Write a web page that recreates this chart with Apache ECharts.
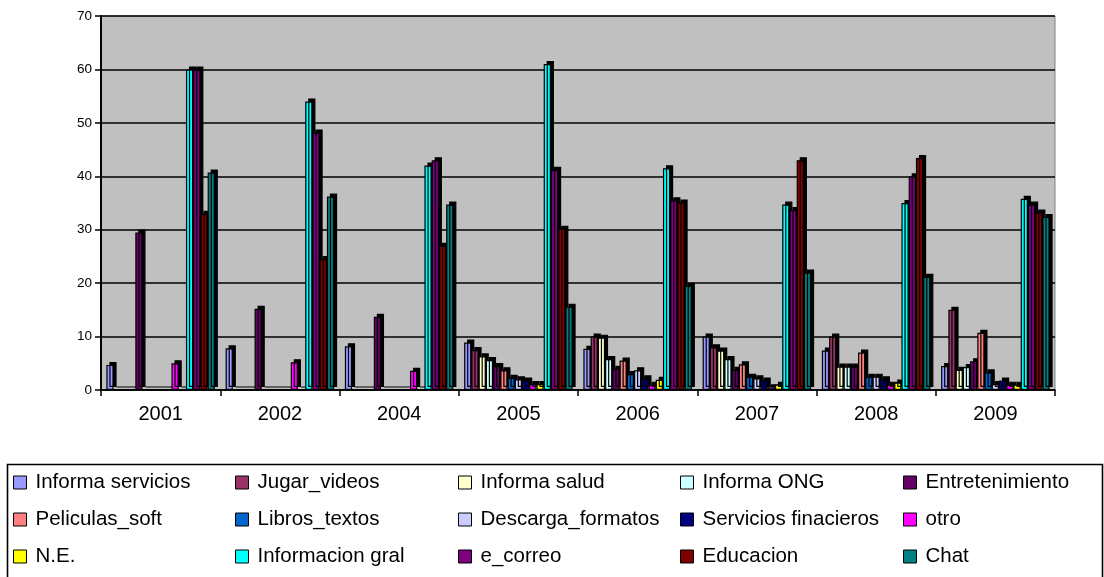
<!DOCTYPE html>
<html>
<head>
<meta charset="utf-8">
<script src="https://cdn.jsdelivr.net/npm/echarts@6/dist/echarts.min.js"></script>
<style>
html,body{margin:0;padding:0;background:#fff;}
#chart{width:1104px;height:577px;}
</style>
</head>
<body>
<div id="chart"></div>
<script>
const categories = ['2001','2002','2004','2005','2006','2007','2008','2009'];
const yTicks = [0,10,20,30,40,50,60,70];

const informaServicios = [4.7, 7.8, 8.2, 8.9, 7.7, 10.0, 7.4, 4.5];
const jugarVideos      = [0, 0, 0, 7.5, 10.0, 8.0, 10.0, 15.0];
const informaSalud     = [0, 0, 0, 6.3, 9.8, 7.4, 4.4, 3.8];
const informaONG       = [0, 0, 0, 5.6, 5.8, 5.8, 4.4, 4.3];
const entretenimiento  = [29.5, 15.2, 13.7, 4.5, 4.0, 3.8, 4.4, 5.4];
const peliculasSoft    = [0, 0, 0, 3.7, 5.5, 4.8, 7.0, 10.7];
const librosTextos     = [0, 0, 0, 2.3, 3.0, 2.5, 2.5, 3.3];
const descargaFormatos = [0, 0, 0, 2.0, 3.7, 2.2, 2.5, 1.1];
const serviciosFin     = [0, 0, 0, 1.8, 2.2, 1.8, 2.0, 1.8];
const otro             = [5.0, 5.2, 3.6, 1.1, 1.0, 0.5, 1.0, 1.0];
const ne               = [0, 0, 0, 1.1, 1.9, 1.0, 1.4, 1.0];
const informacionGral  = [60.0, 54.0, 42.0, 61.0, 41.5, 34.7, 35.0, 35.8];
const eCorreo          = [60.0, 48.2, 43.0, 41.2, 35.5, 33.7, 40.0, 34.7];
const educacion        = [33.0, 24.5, 27.0, 30.2, 35.1, 43.0, 43.4, 33.2];
const chat             = [40.7, 36.2, 34.7, 15.6, 19.5, 22.0, 21.2, 32.4];

const seriesNames = ['Informa servicios','Jugar_videos','Informa salud','Informa ONG','Entretenimiento',
  'Peliculas_soft','Libros_textos','Descarga_formatos','Servicios finacieros','otro',
  'N.E.','Informacion gral','e_correo','Educacion','Chat'];
const seriesData = [informaServicios, jugarVideos, informaSalud, informaONG, entretenimiento,
  peliculasSoft, librosTextos, descargaFormatos, serviciosFin, otro,
  ne, informacionGral, eCorreo, educacion, chat];
const colors = ['#9999FF','#993366','#FFFFCC','#CCFFFF','#660066',
  '#FF8080','#0066CC','#CCCCFF','#000080','#FF00FF',
  '#FFFF00','#00FFFF','#800080','#800000','#008080'];

const FONT = '"Liberation Sans", Arial, sans-serif';
const chart = echarts.init(document.getElementById('chart'), null, {renderer:'canvas'});

const series = seriesNames.map((n, i) => ({
  name: n,
  type: 'bar',
  data: seriesData[i],
  barGap: '0%',
  barCategoryGap: '9%',
  itemStyle: {
    color: colors[i],
    borderColor: '#000',
    borderWidth: 1.2,
    shadowColor: '#000',
    shadowBlur: 0,
    shadowOffsetX: 3,
    shadowOffsetY: -3
  },
  emphasis: {disabled: true}
}));

const colLefts = [13, 235, 458, 680, 903];
const legends = colLefts.map((x, c) => ({
  show: true,
  orient: 'vertical',
  left: x,
  top: 472,
  padding: 0,
  itemGap: 16,
  itemWidth: 13,
  itemHeight: 13,
  icon: 'rect',
  selectedMode: false,
  data: [seriesNames[c], seriesNames[c+5], seriesNames[c+10]],
  itemStyle: {borderColor: '#000', borderWidth: 1, shadowBlur: 0, shadowOffsetX: 0, shadowOffsetY: 0, shadowColor: 'transparent'},
  textStyle: {fontFamily: FONT, fontSize: 20.5, color: '#000', lineHeight: 21, padding: [0,0,0,4]}
}));

chart.setOption({
  animation: false,
  backgroundColor: '#fff',
  color: colors,
  grid: {
    left: 101, right: 49, top: 16, bottom: 187,
    show: true, backgroundColor: '#C0C0C0', borderColor: '#808080', borderWidth: 1
  },
  legend: legends,
  graphic: [{
    type: 'rect',
    left: 5, top: 462,
    shape: {width: 1095, height: 130},
    style: {fill: 'none', stroke: '#000', lineWidth: 1.6},
    silent: true
  }],
  xAxis: {
    type: 'category',
    data: categories,
    boundaryGap: true,
    axisLine: {show: true, lineStyle: {color: '#000', width: 1.5}},
    axisTick: {show: true, length: 6, alignWithLabel: false, lineStyle: {color: '#000', width: 1.5}},
    axisLabel: {fontFamily: FONT, fontSize: 20, color: '#000', margin: 14},
    splitLine: {show: false}
  },
  yAxis: {
    type: 'value',
    min: yTicks[0], max: yTicks[yTicks.length-1], interval: 10,
    axisLine: {show: true, lineStyle: {color: '#000', width: 2}},
    axisTick: {show: true, length: 6, lineStyle: {color: '#000', width: 1.5}},
    axisLabel: {fontFamily: FONT, fontSize: 13.5, color: '#000', margin: 9},
    splitLine: {show: true, lineStyle: {color: '#000', width: 1.5}}
  },
  series: series
});
</script>
</body>
</html>
